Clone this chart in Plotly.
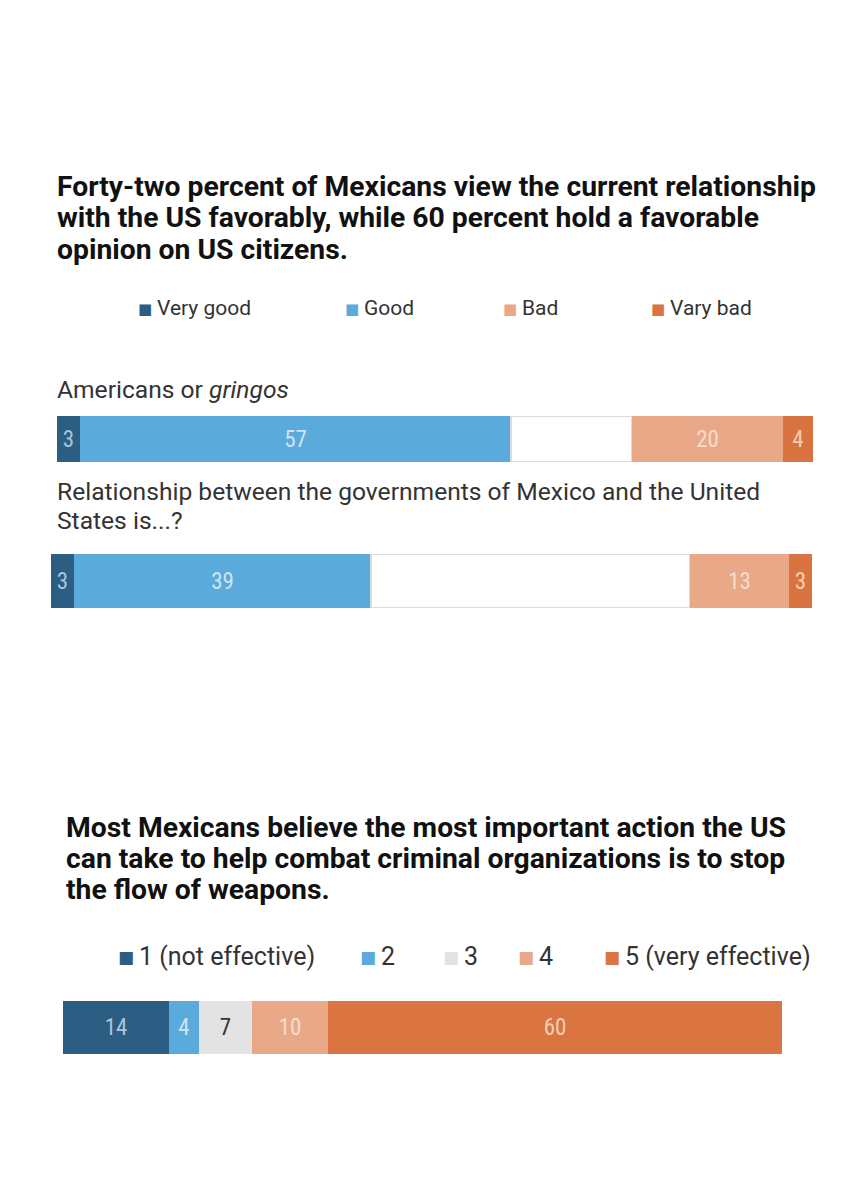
import plotly.graph_objects as go

W, H = 867, 1200
FONT = "Roboto, sans-serif"
FONT_NUM = "Roboto Condensed, Roboto, sans-serif"

# ---- data: chart 1 ----
cats1_lines = [["Americans or <i>gringos</i>"],
               ["Relationship between the governments of Mexico and the United",
                "States is...?"]]
series1 = ["Very good", "Good", "Neutral", "Bad", "Vary bad"]
vals_americans = [3, 57, 16, 20, 4]
vals_relationship = [3, 39, 42, 13, 3]
colors1 = ["#2c5e84", "#5aabdc", "#ffffff", "#e9a988", "#d9733f"]
textcolors1 = ["#a9c5d9", "#cfe4f2", "#ffffff", "#f6dccd", "#f5cdb6"]
legend1 = ["Very good", "Good", "Bad", "Vary bad"]
legend1_colors = ["#2c5e84", "#5aabdc", "#e9a988", "#d9733f"]

# ---- data: chart 2 ----
series2 = ["1 (not effective)", "2", "3", "4", "5 (very effective)"]
vals_weapons = [14, 4, 7, 10, 60]
colors2 = ["#2c5e84", "#5aabdc", "#e3e3e3", "#e9a988", "#da7541"]
textcolors2 = ["#a9c5d9", "#cfe4f2", "#333333", "#f6dccd", "#f5cdb6"]

title1 = ["Forty-two percent of Mexicans view the current relationship",
          "with the US favorably, while 60 percent hold a favorable",
          "opinion on US citizens."]
title2 = ["Most Mexicans believe the most important action the US",
          "can take to help combat criminal organizations is to stop",
          "the flow of weapons."]


def px(x):
    return x / W


def py(y):
    return 1 - y / H


fig = go.Figure()

bar_rows = [
    (vals_americans, "x", "y", (57, 813), (416, 462), series1, colors1, textcolors1, sum(vals_americans)),
    (vals_relationship, "x2", "y2", (51, 812), (554, 608), series1, colors1, textcolors1, sum(vals_relationship)),
    (vals_weapons, "x3", "y3", (63, 782), (1001, 1054), series2, colors2, textcolors2, sum(vals_weapons)),
]

layout_axes = {}
for i, (vals, xa, ya, (x0, x1), (y0, y1), names, cols, tcols, total) in enumerate(bar_rows):
    for v, name, c, tc in zip(vals, names, cols, tcols):
        neutral = (name == "Neutral")
        fig.add_trace(go.Bar(
            x=[v], y=[0], orientation="h", name=name,
            xaxis=xa, yaxis=ya, width=1,
            marker=dict(color=c,
                        line=dict(color="#dcdcdc" if neutral else c, width=2 if neutral else 0)),
            text=[""] if neutral else [str(v)],
            textposition="inside", insidetextanchor="middle",
            textfont=dict(family=FONT_NUM, size=23, color=tc),
            showlegend=False, hoverinfo="x+name",
        ))
    suffix = "" if i == 0 else str(i + 1)
    layout_axes["xaxis" + suffix] = dict(domain=[px(x0), px(x1)], range=[0, total],
                                         visible=False, fixedrange=True,
                                         anchor="y" + suffix)
    layout_axes["yaxis" + suffix] = dict(domain=[py(y1), py(y0)], range=[-0.5, 0.5],
                                         visible=False, fixedrange=True,
                                         anchor="x" + suffix)

ann = []
# titles
for k, line in enumerate(title1):
    ann.append(dict(x=px(55), y=py(187 + 31 * k), text="<b>" + line + "</b>",
                    font=dict(family=FONT, size=28.3, color="#111111")))
for k, line in enumerate(title2):
    ann.append(dict(x=px(64), y=py(828 + 30.5 * k), text="<b>" + line + "</b>",
                    font=dict(family=FONT, size=28.3, color="#111111")))

# legend chart 1
for name, c, lx in zip(legend1, legend1_colors, [138, 345, 503, 651]):
    ann.append(dict(x=px(lx - 2), y=py(309), text="■",
                    font=dict(family="DejaVu Sans", size=15, color=c)))
    ann.append(dict(x=px(lx + 17), y=py(308), text=name,
                    font=dict(family=FONT, size=21, color="#333333")))
# legend chart 2
for name, c, lx in zip(series2, colors2, [118, 360, 443, 518, 604]):
    ann.append(dict(x=px(lx - 2), y=py(957), text="■",
                    font=dict(family="DejaVu Sans", size=17, color=c)))
    ann.append(dict(x=px(lx + 19), y=py(956), text=name,
                    font=dict(family=FONT, size=25, color="#333333")))

# category labels
for lines, y0 in zip(cats1_lines, [390, 492]):
    for k, line in enumerate(lines):
        ann.append(dict(x=px(55), y=py(y0 + 29 * k), text=line,
                        font=dict(family=FONT, size=24.6, color="#333333")))

for a in ann:
    a.update(xref="paper", yref="paper", xanchor="left", yanchor="middle",
             showarrow=False, align="left")

fig.update_layout(
    width=W, height=H,
    margin=dict(l=0, r=0, t=0, b=0),
    paper_bgcolor="white", plot_bgcolor="rgba(0,0,0,0)",
    barmode="stack", bargap=0,
    annotations=ann,
    showlegend=False,
    **layout_axes,
)

fig.write_html("out.html", post_script="document.body.style.margin='0';",
               config={"displayModeBar": False})
